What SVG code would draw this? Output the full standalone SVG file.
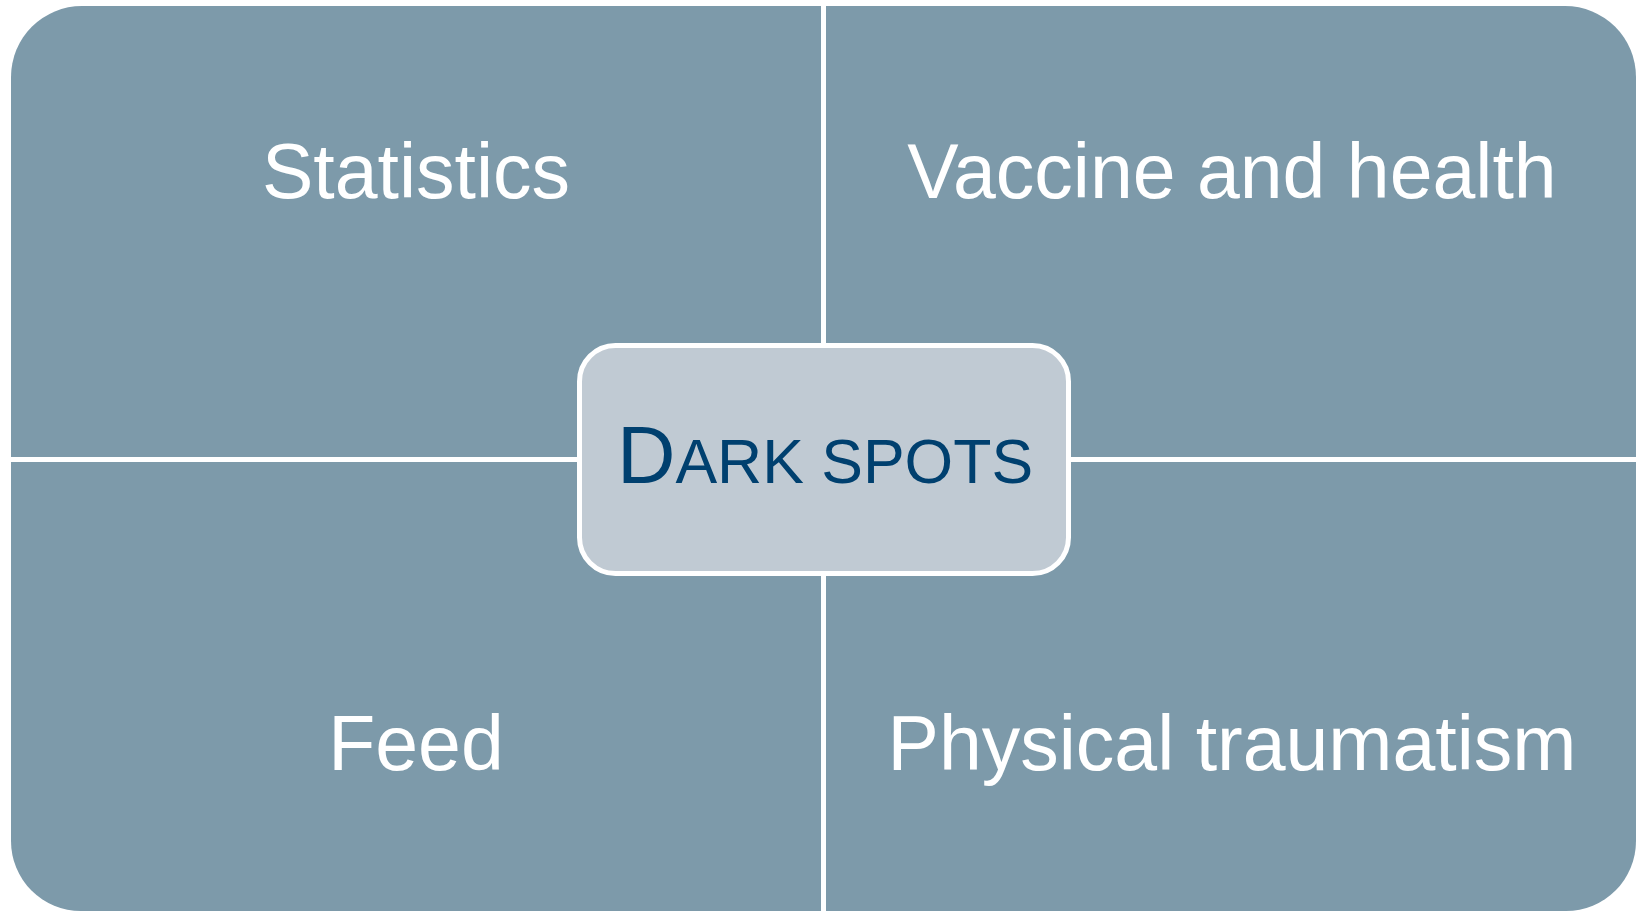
<svg xmlns="http://www.w3.org/2000/svg" width="1638" height="911" viewBox="0 0 1638 911">
  <style>
    .quad { fill: #7D9AAA; }
    .qlabel { font-family: "Liberation Sans", Arial, sans-serif; font-size: 77px; fill: #FFFFFF; text-anchor: middle; }
    .center { fill: #C0CAD3; stroke: #FFFFFF; stroke-width: 5; }
    .ctext { font-family: "Liberation Sans", Arial, sans-serif; fill: #00406F; }
  </style>
  <rect x="0" y="0" width="1638" height="911" fill="#FFFFFF"/>
  <g id="statistics">
    <path class="quad" d="M11,77 A71,71 0 0 1 82,6 L821,6 L821,457 L11,457 Z"/>
    <text class="qlabel" x="416" y="198">Statistics</text>
  </g>
  <g id="vaccine-and-health">
    <path class="quad" d="M826,6 L1565,6 A71,71 0 0 1 1636,77 L1636,457 L826,457 Z"/>
    <text class="qlabel" x="1232" y="198">Vaccine and health</text>
  </g>
  <g id="feed">
    <path class="quad" d="M11,462 L821,462 L821,911 L81,911 A70,70 0 0 1 11,841 Z"/>
    <text class="qlabel" x="416" y="770">Feed</text>
  </g>
  <g id="physical-traumatism">
    <path class="quad" d="M826,462 L1636,462 L1636,841 A70,70 0 0 1 1566,911 L826,911 Z"/>
    <text class="qlabel" x="1232" y="770">Physical traumatism</text>
  </g>
  <g id="connectors"></g>
  <g id="dark-spots">
    <rect class="center" x="579.5" y="345.5" width="489" height="228" rx="36" ry="36"/>
    <text class="ctext" x="825" y="483" text-anchor="middle"><tspan font-size="81">D</tspan><tspan font-size="62.5">ARK SPOTS</tspan></text>
  </g>
</svg>
